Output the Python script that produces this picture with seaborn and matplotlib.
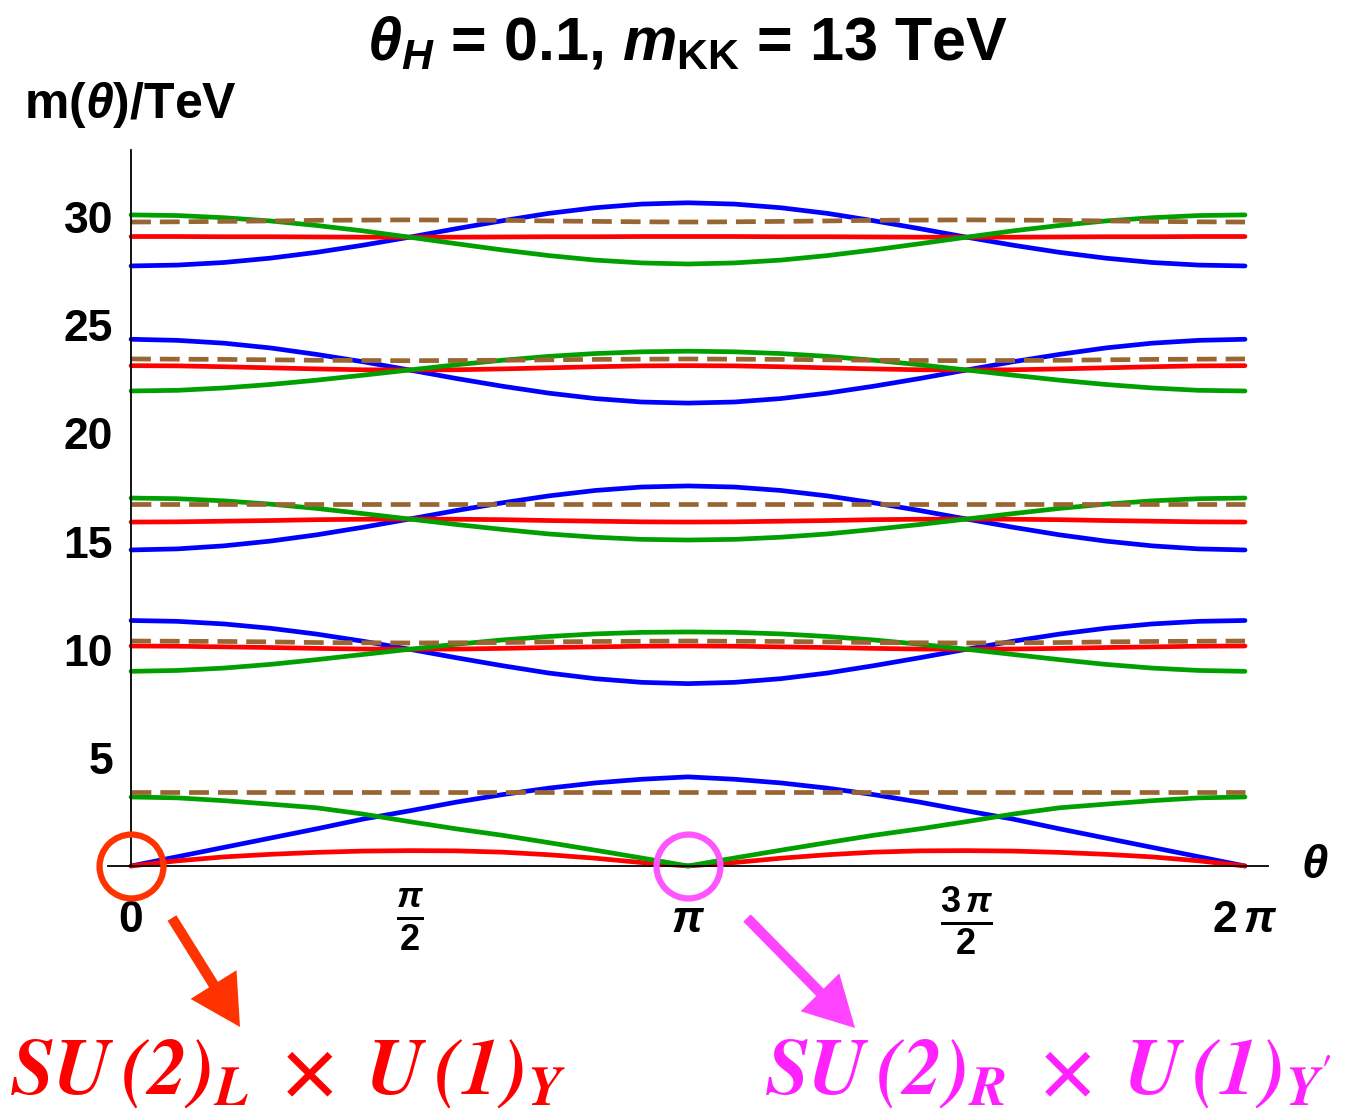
import numpy as np
import matplotlib
matplotlib.use("Agg")
import matplotlib.pyplot as plt
from matplotlib.patches import FancyArrowPatch
from matplotlib.transforms import IdentityTransform
import seaborn as sns

# ---------------- data ----------------
theta = np.linspace(0, 2 * np.pi, 25)  # grid: k * pi/12

blue0 = [0.00, 0.43, 0.86, 1.29, 1.72, 2.17, 2.55, 2.95, 3.30, 3.60, 3.84, 4.01, 4.12,
         4.01, 3.84, 3.60, 3.30, 2.95, 2.55, 2.17, 1.72, 1.29, 0.86, 0.43, 0.00]
green0 = [3.19, 3.15, 3.02, 2.86, 2.69, 2.40, 2.05, 1.72, 1.42, 1.08, 0.73, 0.37, 0.00,
          0.37, 0.73, 1.08, 1.42, 1.72, 2.05, 2.40, 2.69, 2.86, 3.02, 3.15, 3.19]
red0 = [0.00, 0.24, 0.42, 0.54, 0.63, 0.69, 0.71, 0.70, 0.64, 0.52, 0.36, 0.16, 0.00,
        0.16, 0.36, 0.52, 0.64, 0.70, 0.71, 0.69, 0.63, 0.54, 0.42, 0.24, 0.00]
brown0 = [3.40, 3.40, 3.40, 3.40, 3.40, 3.40, 3.40, 3.40, 3.40, 3.40, 3.40, 3.40, 3.40,
          3.40, 3.40, 3.40, 3.40, 3.40, 3.40, 3.40, 3.40, 3.40, 3.40, 3.40, 3.40]

blue1 = [11.35, 11.31, 11.19, 10.99, 10.72, 10.39, 10.02, 9.63, 9.26, 8.92, 8.66, 8.49, 8.43,
         8.49, 8.66, 8.92, 9.26, 9.63, 10.02, 10.39, 10.72, 10.99, 11.19, 11.31, 11.35]
green1 = [9.00, 9.04, 9.15, 9.32, 9.54, 9.78, 10.02, 10.25, 10.45, 10.61, 10.73, 10.80, 10.82,
          10.80, 10.73, 10.61, 10.45, 10.25, 10.02, 9.78, 9.54, 9.32, 9.15, 9.04, 9.00]
red1 = [10.17, 10.16, 10.13, 10.10, 10.06, 10.03, 10.02, 10.03, 10.06, 10.10, 10.13, 10.16, 10.17,
        10.16, 10.13, 10.10, 10.06, 10.03, 10.02, 10.03, 10.06, 10.10, 10.13, 10.16, 10.17]
brown1 = [10.40, 10.39, 10.38, 10.36, 10.33, 10.32, 10.31, 10.32, 10.33, 10.36, 10.38, 10.39, 10.40,
          10.39, 10.38, 10.36, 10.33, 10.32, 10.31, 10.32, 10.33, 10.36, 10.38, 10.39, 10.40]

blue2 = [14.61, 14.66, 14.80, 15.02, 15.31, 15.66, 16.04, 16.43, 16.79, 17.11, 17.36, 17.52, 17.57,
         17.52, 17.36, 17.11, 16.79, 16.43, 16.04, 15.66, 15.31, 15.02, 14.80, 14.66, 14.61]
green2 = [17.01, 16.98, 16.88, 16.73, 16.53, 16.29, 16.04, 15.79, 15.56, 15.35, 15.20, 15.10, 15.07,
          15.10, 15.20, 15.35, 15.56, 15.79, 16.04, 16.29, 16.53, 16.73, 16.88, 16.98, 17.01]
red2 = [15.90, 15.91, 15.94, 15.97, 16.01, 16.03, 16.04, 16.03, 16.01, 15.97, 15.94, 15.91, 15.90,
        15.91, 15.94, 15.97, 16.01, 16.03, 16.04, 16.03, 16.01, 15.97, 15.94, 15.91, 15.90]
brown2 = [16.74, 16.74, 16.74, 16.74, 16.74, 16.74, 16.74, 16.74, 16.74, 16.74, 16.74, 16.74, 16.74,
          16.74, 16.74, 16.74, 16.74, 16.74, 16.74, 16.74, 16.74, 16.74, 16.74, 16.74, 16.74]

blue3 = [24.35, 24.30, 24.17, 23.95, 23.65, 23.31, 22.93, 22.54, 22.18, 21.86, 21.61, 21.45, 21.40,
         21.45, 21.61, 21.86, 22.18, 22.54, 22.93, 23.31, 23.65, 23.95, 24.17, 24.30, 24.35]
green3 = [21.96, 21.99, 22.10, 22.26, 22.46, 22.69, 22.93, 23.17, 23.38, 23.56, 23.69, 23.77, 23.80,
          23.77, 23.69, 23.56, 23.38, 23.17, 22.93, 22.69, 22.46, 22.26, 22.10, 21.99, 21.96]
red3 = [23.13, 23.12, 23.08, 23.03, 22.98, 22.94, 22.93, 22.94, 22.98, 23.03, 23.08, 23.12, 23.13,
        23.12, 23.08, 23.03, 22.98, 22.94, 22.93, 22.94, 22.98, 23.03, 23.08, 23.12, 23.13]
brown3 = [23.44, 23.43, 23.42, 23.40, 23.38, 23.37, 23.36, 23.37, 23.38, 23.40, 23.42, 23.43, 23.44,
          23.43, 23.42, 23.40, 23.38, 23.37, 23.36, 23.37, 23.38, 23.40, 23.42, 23.43, 23.44]

blue4 = [27.74, 27.78, 27.90, 28.10, 28.37, 28.70, 29.07, 29.46, 29.83, 30.17, 30.43, 30.60, 30.66,
         30.60, 30.43, 30.17, 29.83, 29.46, 29.07, 28.70, 28.37, 28.10, 27.90, 27.78, 27.74]
green4 = [30.10, 30.07, 29.97, 29.82, 29.61, 29.36, 29.07, 28.77, 28.48, 28.22, 28.01, 27.88, 27.83,
          27.88, 28.01, 28.22, 28.48, 28.77, 29.07, 29.36, 29.61, 29.82, 29.97, 30.07, 30.10]
red4 = [29.10, 29.10, 29.09, 29.09, 29.08, 29.07, 29.07, 29.07, 29.08, 29.09, 29.09, 29.10, 29.10,
        29.10, 29.09, 29.09, 29.08, 29.07, 29.07, 29.07, 29.08, 29.09, 29.09, 29.10, 29.10]
brown4 = [29.77, 29.78, 29.80, 29.82, 29.85, 29.86, 29.87, 29.86, 29.85, 29.82, 29.80, 29.78, 29.77,
          29.78, 29.80, 29.82, 29.85, 29.86, 29.87, 29.86, 29.85, 29.82, 29.80, 29.78, 29.77]

blue_levels = [blue0, blue1, blue2, blue3, blue4]
green_levels = [green0, green1, green2, green3, green4]
red_levels = [red0, red1, red2, red3, red4]
brown_levels = [brown0, brown1, brown2, brown3, brown4]

xtick_vals = [0, np.pi / 2, np.pi, 3 * np.pi / 2, 2 * np.pi]
xtick_labels = ["0", r"$\frac{\pi}{2}$", r"$\pi$", r"$\frac{3\,\pi}{2}$", r"$2\,\pi$"]
xtick_fracs = [False, True, False, True, False]
ytick_vals = [5, 10, 15, 20, 25, 30]
ytick_minor = list(range(1, 34))
highlight_x = [0.0, np.pi]

title_text = r"$\theta_H$ = 0.1, $m_{\mathrm{KK}}$ = 13 TeV"
ylabel_text = r"m($\theta$)/TeV"
left_group = (r"$\mathbfit{SU}\,\mathbfit{(2)}_{\mathbfit{L}}\;\times\;"
              r"\mathbfit{U}\,\mathbfit{(1)}_{\mathbfit{Y}}$")
right_group = (r"$\mathbfit{SU}\,\mathbfit{(2)}_{\mathbfit{R}}\;\times\;"
               r"\mathbfit{U}\,\mathbfit{(1)}_{\mathbfit{Y}^{\prime}}$")

# ---------------- style ----------------
sns.set_theme(style="white")
plt.rcParams["font.family"] = ["Liberation Sans", "DejaVu Sans"]
plt.rcParams["font.weight"] = "bold"
plt.rcParams["text.color"] = "black"
plt.rcParams["axes.labelcolor"] = "black"
plt.rcParams["xtick.color"] = "black"
plt.rcParams["ytick.color"] = "black"
plt.rcParams["mathtext.fontset"] = "custom"
plt.rcParams["mathtext.rm"] = "Liberation Sans:bold"
plt.rcParams["mathtext.it"] = "Liberation Sans:bold:italic"
plt.rcParams["mathtext.bf"] = "Liberation Sans:bold"

BLUE = "#0000FF"
GREEN = "#00A000"
RED = "#FF0000"
BROWN = "#996633"

W, H = 1361, 1113
fig = plt.figure(figsize=(W / 100, H / 100), dpi=100)
fig.patch.set_facecolor("white")

x_left_px, x_right_px = 108, 1268
y_top_px, y_zero_px = 150, 866
ax = fig.add_axes([x_left_px / W, (H - y_zero_px) / H,
                   (x_right_px - x_left_px) / W, (y_zero_px - y_top_px) / H])
ax.set_facecolor("none")

LW = 3.4
for b, r, g, br in zip(blue_levels, red_levels, green_levels, brown_levels):
    sns.lineplot(x=theta, y=b, color=BLUE, lw=LW, ax=ax, sort=False, clip_on=False)
    sns.lineplot(x=theta, y=r, color=RED, lw=LW, ax=ax, sort=False, clip_on=False)
    sns.lineplot(x=theta, y=g, color=GREEN, lw=LW, ax=ax, sort=False, clip_on=False)
    sns.lineplot(x=theta, y=br, color=BROWN, lw=LW, ax=ax, sort=False, clip_on=False,
                 linestyle=(0, (4.2, 1.9)))

ax.set_xlim(-0.13, 6.413)
ax.set_ylim(0, 33.1)

# axes like Mathematica: crossing at origin
for s in ["top", "right"]:
    ax.spines[s].set_visible(False)
ax.spines["left"].set_position(("data", 0))
ax.spines["left"].set_bounds(0, 33.1)
for s in ["left", "bottom"]:
    ax.spines[s].set_color("black")
    ax.spines[s].set_linewidth(1.3)

ax.set_xticks(xtick_vals)
ax.set_xticklabels(xtick_labels)
ax.set_yticks(ytick_vals)
ax.set_yticklabels([str(v) for v in ytick_vals])
ax.set_yticks(ytick_minor, minor=True)
ax.tick_params(axis="y", which="major", direction="in", length=10, width=1.1,
               pad=13, labelsize=32, colors="black")
ax.tick_params(axis="y", which="minor", direction="in", length=5.8, width=1.1, colors="black")
ax.tick_params(axis="x", which="major", direction="in", length=8.6, width=1.1,
               pad=39, labelsize=32, colors="black")
for lbl, is_frac in zip(ax.get_xticklabels(), xtick_fracs):
    lbl.set_verticalalignment("center")
    lbl.set_color("black")
    if is_frac:
        lbl.set_fontsize(37)
for lbl in ax.get_yticklabels():
    lbl.set_color("black")
ax.set_xlabel("")
ax.set_ylabel("")
ax.grid(False)

# highlighted symmetry points
ax.plot([highlight_x[0]], [0], marker="o", ms=46, mfc="none", mec="#FF3300", mew=4.5,
        clip_on=False, zorder=5)
ax.plot([highlight_x[1]], [0], marker="o", ms=46, mfc="none", mec="#FF55FF", mew=4.5,
        clip_on=False, zorder=5)

# texts
fig.text(688 / W, 1 - 60 / H, title_text, ha="center", va="baseline", fontsize=44,
         fontweight="bold", color="black")
fig.text(24 / W, 1 - 118 / H, ylabel_text, ha="left", va="baseline", fontsize=36,
         fontweight="bold", color="black")
fig.text(1315 / W, 1 - 866 / H, r"$\theta$", ha="center", va="center", fontsize=34,
         color="black")

fig.text(10 / W, 1 - 1094 / H, left_group, ha="left", va="baseline", fontsize=57,
         color="#FF0000", math_fontfamily="stix")
fig.text(765 / W, 1 - 1094 / H, right_group, ha="left", va="baseline", fontsize=57,
         color="#FF22FF", math_fontfamily="stix")

# arrows (figure pixel coordinates)
def add_arrow(p0, p1, color):
    a = FancyArrowPatch((p0[0], H - p0[1]), (p1[0], H - p1[1]),
                        transform=IdentityTransform(),
                        arrowstyle="simple,head_length=3.6,head_width=3.9,tail_width=0.75",
                        mutation_scale=10, color=color, shrinkA=0, shrinkB=0, lw=0)
    fig.add_artist(a)

add_arrow((172, 918), (240, 1027), "#FF3300")
add_arrow((747, 918), (855, 1028), "#FF44FF")

fig.savefig("out.png", dpi=100, facecolor="white")
